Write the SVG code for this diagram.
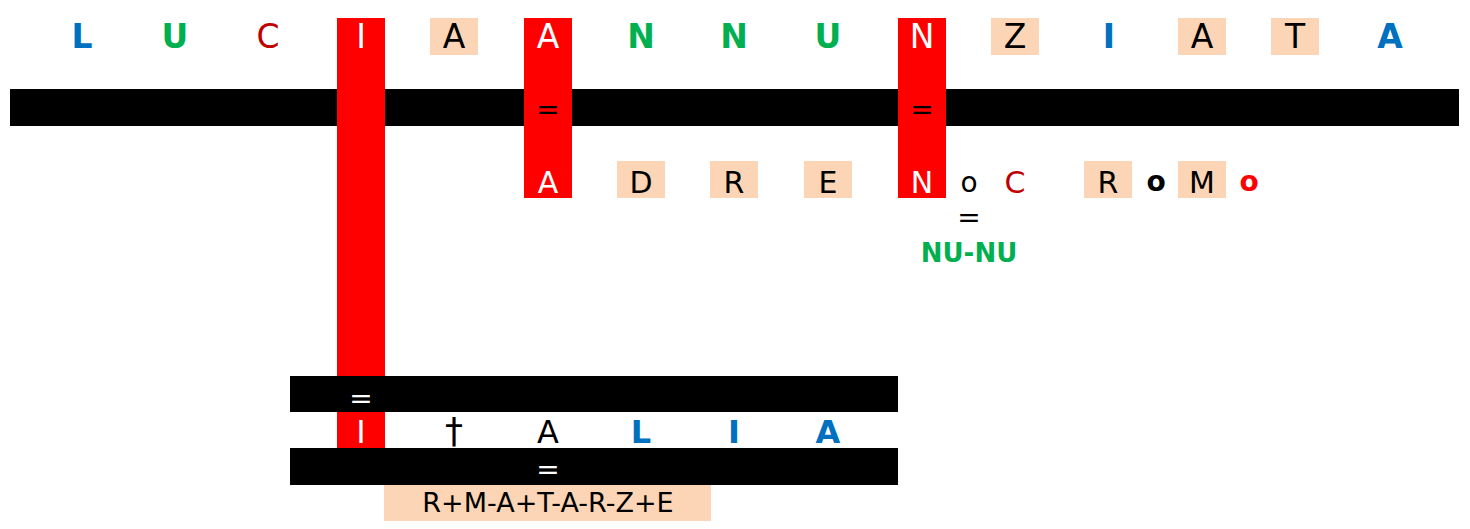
<svg xmlns="http://www.w3.org/2000/svg" width="1470" height="529" viewBox="0 0 1470 529">
<style>
text{font-family:"DejaVu Sans","Verdana",sans-serif;text-anchor:middle}
.t{font-size:33px}
.r2{font-size:30px}
.r3{font-size:32px}
.b{font-weight:bold}
.blue{fill:#0070C0}
.green{fill:#00B050}
.dred{fill:#C00000}
.red{fill:#FF0000}
.wht{fill:#FFFFFF}
.blk{fill:#000000}
.peach{fill:#FBD5B5}
.bar{fill:#000000}
.eq{font-size:28px}
</style>
<rect width="1470" height="529" fill="#FFFFFF"/>
<g id="bars">
<rect class="bar" x="10" y="89" width="1449" height="37"/>
</g>
<g id="red-columns">
<rect class="red" x="337" y="18" width="48" height="430"/>
<rect class="red" x="524" y="18" width="48" height="180"/>
<rect class="red" x="898" y="18" width="48" height="180"/>
</g>
<g id="lower-bars">
<rect class="bar" x="290" y="376" width="608" height="36"/>
<rect class="bar" x="290" y="448" width="608" height="37"/>
</g>
<g id="row1-boxes">
<rect class="peach" x="430" y="18" width="48" height="37"/>
<rect class="peach" x="991" y="18" width="48" height="37"/>
<rect class="peach" x="1178" y="18" width="48" height="37"/>
<rect class="peach" x="1271" y="18" width="48" height="37"/>
</g>
<g id="row1-text">
<text class="t b blue" x="82" y="47.5">L</text>
<text class="t b green" x="175" y="47.5">U</text>
<text class="t dred" x="268" y="47.5">C</text>
<text class="t wht" x="361" y="47.5">I</text>
<text class="t blk" x="454" y="47.5">A</text>
<text class="t wht" x="548" y="47.5">A</text>
<text class="t b green" x="641" y="47.5">N</text>
<text class="t b green" x="734" y="47.5">N</text>
<text class="t b green" x="828" y="47.5">U</text>
<text class="t wht" x="922" y="47.5">N</text>
<text class="t blk" x="1015" y="47.5">Z</text>
<text class="t b blue" x="1109" y="47.5">I</text>
<text class="t blk" x="1202" y="47.5">A</text>
<text class="t blk" x="1295" y="47.5">T</text>
<text class="t b blue" x="1390" y="47.5">A</text>
</g>
<g id="top-equals">
<text class="eq blk" x="548" y="118.5">=</text>
<text class="eq blk" x="922" y="118.5">=</text>
</g>
<g id="row2-boxes">
<rect class="peach" x="617" y="161" width="48" height="37"/>
<rect class="peach" x="710" y="161" width="48" height="37"/>
<rect class="peach" x="804" y="161" width="48" height="37"/>
<rect class="peach" x="1084" y="161" width="48" height="37"/>
<rect class="peach" x="1178" y="161" width="48" height="37"/>
</g>
<g id="row2-text">
<text class="r2 wht" x="548" y="192.5">A</text>
<text class="r2 blk" x="641" y="192.5">D</text>
<text class="r2 blk" x="734" y="192.5">R</text>
<text class="r2 blk" x="828" y="192.5">E</text>
<text class="r2 wht" x="922" y="192.5">N</text>
<text class="blk" style="font-size:28px" x="969" y="192">o</text>
<text class="r2 dred" x="1015" y="192.5">C</text>
<text class="r2 blk" x="1108" y="192.5">R</text>
<text class="b blk" style="font-size:28px" x="1156" y="191">o</text>
<text class="r2 blk" x="1202" y="192.5">M</text>
<text class="b red" style="font-size:28px" x="1249" y="191">o</text>
</g>
<g id="nunu">
<text class="blk" style="font-size:28px" x="969" y="227">=</text>
<text class="b green" style="font-size:26px" x="969" y="261.5">NU-NU</text>
</g>
<g id="lower-equals">
<text class="eq wht" x="361" y="407.5">=</text>
<text class="eq wht" x="548" y="479">=</text>
</g>
<g id="row3-text">
<text class="r3 wht" x="361" y="442.5">I</text>
<text class="blk" style="font-size:36px" x="454" y="443">†</text>
<text class="r3 blk" x="548" y="442.5">A</text>
<text class="r3 b blue" x="641" y="442.5">L</text>
<text class="r3 b blue" x="734" y="442.5">I</text>
<text class="r3 b blue" x="828" y="442.5">A</text>
</g>
<g id="anagram">
<rect class="peach" x="384" y="485" width="327" height="36"/>
<text class="blk" style="font-size:27px" x="548" y="512">R+M-A+T-A-R-Z+E</text>
</g>
</svg>
